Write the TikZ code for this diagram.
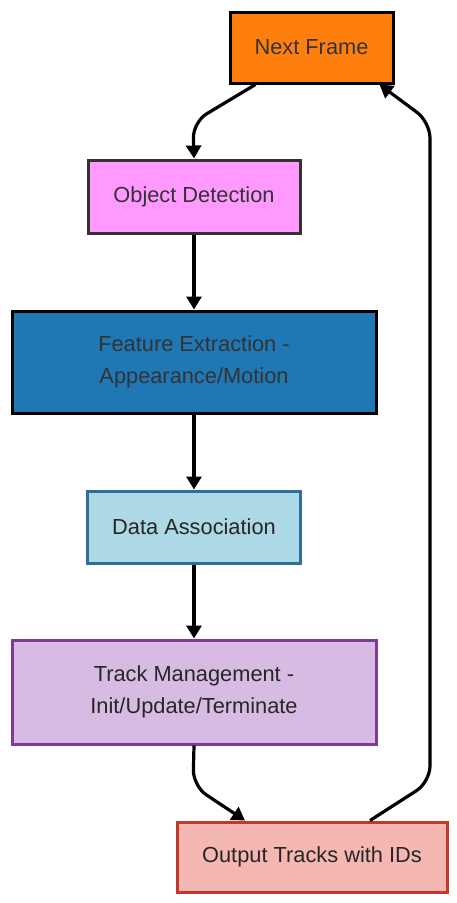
\documentclass[tikz,border=0pt]{standalone}
\usepackage{fontspec}
\setmainfont{Liberation Sans}
\usetikzlibrary{arrows.meta}

\definecolor{frameOrange}{HTML}{FF7F0E}
\definecolor{detectPink}{HTML}{FF99FF}
\definecolor{featureBlue}{HTML}{1F77B4}
\definecolor{assocBlue}{HTML}{ADD8E6}
\definecolor{assocEdge}{HTML}{2F6E99}
\definecolor{managePurple}{HTML}{D7BBE3}
\definecolor{manageEdge}{HTML}{7D3C98}
\definecolor{outputRed}{HTML}{F5B7B1}
\definecolor{outputEdge}{HTML}{C0392B}
\definecolor{textGray}{HTML}{333333}

\begin{document}
\begin{tikzpicture}
[x=1pt,y=-1pt,%
  stageBox/.style={shape=rectangle,draw,line width=3pt,align=center,inner sep=0pt,
    font=\fontsize{21.8}{32}\selectfont,text=textGray},%
  flow/.style={line width=3.2pt,-{Triangle[width=15pt,length=13pt]},rounded corners=16pt}]
\useasboundingbox (0,0) rectangle (457,903);
%% stages
\node[stageBox,fill=frameOrange,draw=black,minimum width=163,minimum height=71]
  (next) at (311.5,47.5) {Next Frame};
\node[stageBox,fill=detectPink,draw=textGray,minimum width=212,minimum height=73]
  (detect) at (194,196.5) {Object Detection};
\node[stageBox,fill=featureBlue,draw=black,minimum width=364,minimum height=102]
  (feature) at (194,362) {Feature Extraction -\\Appearance/Motion};
\node[stageBox,fill=assocBlue,draw=assocEdge,minimum width=213,minimum height=72,text=black!85]
  (assoc) at (194,527) {Data Association};
\node[stageBox,fill=managePurple,draw=manageEdge,minimum width=364,minimum height=104,text=black!85]
  (manage) at (194,692) {Track Management -\\Init/Update/Terminate};
\node[stageBox,fill=outputRed,draw=outputEdge,minimum width=270,minimum height=70,text=black!85]
  (output) at (312,857) {Output Tracks with IDs};
%% straight links
\foreach \from/\to in {detect/feature, feature/assoc, assoc/manage}
{
  \draw[flow] (\from.south) -- (\to.north);
}
%% bent links
\coordinate (loopLow) at (430,782);
\coordinate (loopHigh) at (430,122);
\draw[flow] ([xshift=-56]next.south) -- (193,122) -- (detect.north);
\draw[flow] (manage.south) -- (193,786) -- ([xshift=-67]output.north);
\draw[flow] ([xshift=58]output.north) -- (loopLow) -- (loopHigh) -- ([xshift=68]next.south);
\end{tikzpicture}
\end{document}
